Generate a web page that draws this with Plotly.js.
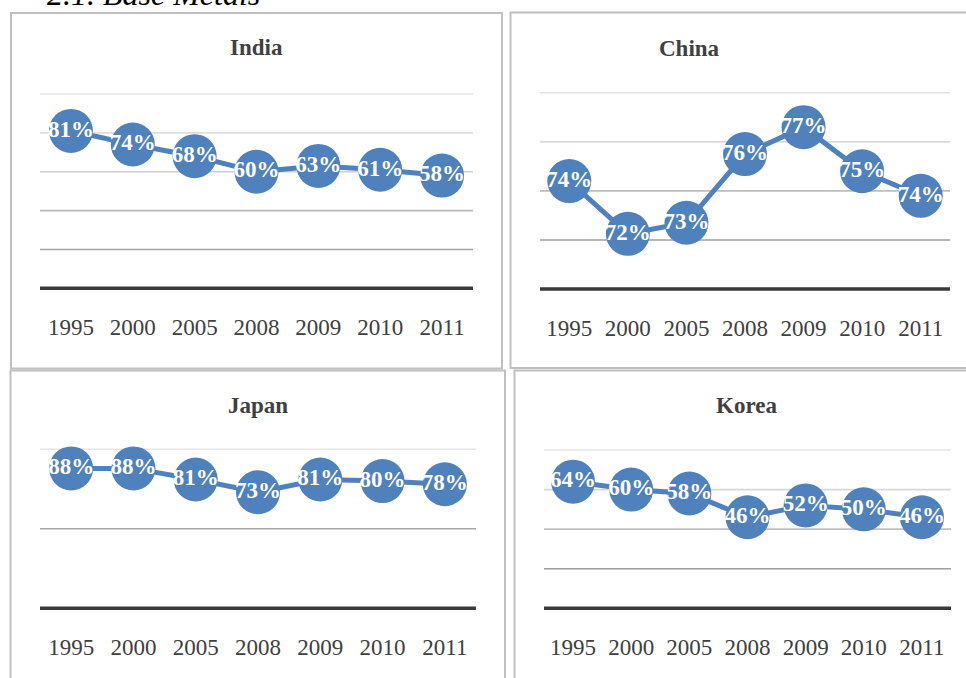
<!DOCTYPE html>
<html>
<head>
<meta charset="utf-8">
<script src="https://cdn.plot.ly/plotly-3.0.1.min.js"></script>
<style>
html,body{margin:0;padding:0;background:#fff;}
#chart{width:966px;height:678px;}
</style>
</head>
<body>
<div id="chart"></div>
<script>
// ---- data ----
var years = ["1995", "2000", "2005", "2008", "2009", "2010", "2011"];
var india = [0.81, 0.74, 0.68, 0.60, 0.63, 0.61, 0.58];
var china = [0.744, 0.7225, 0.727, 0.755, 0.766, 0.748, 0.738];
var japan = [0.88, 0.88, 0.81, 0.73, 0.81, 0.80, 0.78];
var korea = [0.64, 0.60, 0.58, 0.46, 0.52, 0.50, 0.46];
var countries = ["India", "China", "Japan", "Korea"];
var mainTitle = "2.1. Base Metals";
// axis ranges and gridline values
var rangeIndia = [0, 1],       gridIndia = [0.2, 0.4, 0.6, 0.8, 1.0];
var rangeChina = [0.70, 0.78], gridChina = [0.72, 0.74, 0.76, 0.78];
var rangeJapan = [0, 1],       gridJapan = [0.5, 1.0];
var rangeKorea = [0, 0.8],     gridKorea = [0.2, 0.4, 0.6, 0.8];

// ---- layout helpers ----
var W = 966, H = 678;
function px(x){ return x / W; }
function py(y){ return 1 - y / H; }
var BLUE = "#4f81bd";
var SERIF = "Liberation Serif, Times New Roman, serif";
var PAD = 4; // px of padding so edge gridlines are not clipped

// panel geometry (pixels): plot area left, right, top (range max), bottom (range min)
var panels = [
  {name: countries[0], y: india, range: rangeIndia, grid: gridIndia, l: 40,  r: 473, t: 94,   b: 288.3,
   gridColors: ["#a3a3a3", "#b8b8b8", "#d0d0d0", "#dedede", "#e6e6e6"], title: [256, 47],
   box: [11, 13, 502, 368.5]},
  {name: countries[1], y: china, range: rangeChina, grid: gridChina, l: 540, r: 950, t: 92.8, b: 289,
   gridColors: ["#a0a0a0", "#bdbdbd", "#dadada", "#e3e3e3"], title: [689.5, 48],
   box: [510.5, 12.5, 975, 368]},
  {name: countries[2], y: japan, range: rangeJapan, grid: gridJapan, l: 40,  r: 476, t: 449.3, b: 608.3,
   gridColors: ["#a8a8a8", "#e6e6e6"], title: [257.5, 405],
   box: [10.5, 370.5, 505, 695]},
  {name: countries[3], y: korea, range: rangeKorea, grid: gridKorea, l: 544, r: 951, t: 450, b: 608.3,
   gridColors: ["#a0a0a0", "#c0c0c0", "#d8d8d8", "#e6e6e6"], title: [746.5, 405],
   box: [514.5, 370.5, 980, 695]}
];

var data = [];
var layout = {
  width: W, height: H,
  margin: {l: 0, r: 0, t: 0, b: 0},
  paper_bgcolor: "#ffffff",
  plot_bgcolor: "rgba(0,0,0,0)",
  showlegend: false,
  shapes: [],
  annotations: [{
    text: mainTitle, xref: "paper", yref: "paper",
    x: px(45), xanchor: "left", y: py(14), yanchor: "bottom",
    showarrow: false,
    font: {family: SERIF, size: 32, style: "italic", color: "#000000"}
  }]
};

panels.forEach(function(p, i){
  var n = i + 1;
  var xa = "xaxis" + (n === 1 ? "" : n), ya = "yaxis" + (n === 1 ? "" : n);
  var xr = "x" + (n === 1 ? "" : n), yr = "y" + (n === 1 ? "" : n);
  var unitsPerPx = (p.range[1] - p.range[0]) / (p.b - p.t);
  var rpad = PAD * unitsPerPx;

  layout[xa] = {
    domain: [px(p.l), px(p.r)], anchor: yr, type: "category",
    range: [-0.5, years.length - 0.5],
    showgrid: false, zeroline: false, showline: false,
    ticks: "outside", ticklen: 14, tickcolor: "rgba(0,0,0,0)",
    tickfont: {family: SERIF, size: 23, color: "#404040"},
    fixedrange: true
  };
  layout[ya] = {
    domain: [py(p.b + PAD), py(p.t - PAD)], anchor: xr,
    range: [p.range[0] - rpad, p.range[1] + rpad],
    showgrid: false, zeroline: false, showline: false,
    showticklabels: false, ticks: "", fixedrange: true
  };

  // gridlines
  p.grid.forEach(function(g, k){
    layout.shapes.push({
      type: "line", layer: "below", xref: xr + " domain", yref: yr,
      x0: 0, x1: 1, y0: g, y1: g,
      line: {color: p.gridColors[k], width: 1.6}
    });
  });
  // baseline (range minimum)
  layout.shapes.push({
    type: "line", layer: "below", xref: xr + " domain", yref: yr,
    x0: 0, x1: 1, y0: p.range[0], y1: p.range[0],
    line: {color: "#3a3a3a", width: 3.5}
  });
  // panel border
  layout.shapes.push({
    type: "rect", layer: "below", xref: "paper", yref: "paper",
    x0: px(p.box[0]), y0: py(p.box[1]), x1: px(p.box[2]), y1: py(p.box[3]),
    line: {color: "#c0c0c0", width: 2}, fillcolor: "rgba(0,0,0,0)"
  });
  // title
  layout.annotations.push({
    text: p.name, xref: "paper", yref: "paper",
    x: px(p.title[0]), y: py(p.title[1]), xanchor: "center", yanchor: "middle",
    showarrow: false,
    font: {family: SERIF, size: 23, weight: "bold", color: "#404040"}
  });

  data.push({
    type: "scatter", mode: "lines+markers+text",
    x: years, y: p.y, xaxis: xr, yaxis: yr,
    line: {color: BLUE, width: 5},
    marker: {color: BLUE, size: 44, line: {width: 0}},
    texttemplate: "%{y:.0%}", textposition: "middle center",
    textfont: {family: SERIF, size: 23, weight: "bold", color: "#ffffff"},
    cliponaxis: false, hoverinfo: "skip"
  });
});

Plotly.newPlot("chart", data, layout, {displayModeBar: false, staticPlot: true});
</script>
</body>
</html>
